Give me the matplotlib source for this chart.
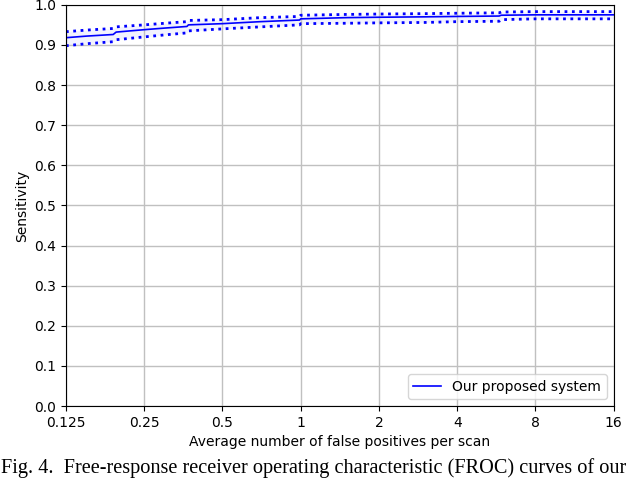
import numpy as np
import matplotlib.pyplot as plt

# FROC curve values
fp_rate = [0.125, 0.15, 0.19, 0.195, 0.25, 0.30, 0.365, 0.37, 0.5, 0.7, 0.99, 1.0, 1.5, 2, 3, 4, 5.8, 5.9, 8, 12, 16]
sens_mean = [0.918, 0.922, 0.926, 0.932, 0.938, 0.942, 0.946, 0.950, 0.953, 0.958, 0.962, 0.965, 0.968, 0.969, 0.970, 0.971, 0.972, 0.974, 0.975, 0.975, 0.975]
sens_upper = [0.933, 0.937, 0.941, 0.945, 0.950, 0.954, 0.958, 0.961, 0.963, 0.968, 0.971, 0.974, 0.976, 0.977, 0.978, 0.979, 0.980, 0.982, 0.983, 0.983, 0.983]
sens_lower = [0.898, 0.903, 0.908, 0.913, 0.920, 0.925, 0.930, 0.935, 0.940, 0.945, 0.950, 0.953, 0.954, 0.955, 0.956, 0.958, 0.959, 0.963, 0.965, 0.965, 0.965]

xticks = [0.125, 0.25, 0.5, 1, 2, 4, 8, 16]
xtick_labels = ["0.125", "0.25", "0.5", "1", "2", "4", "8", "16"]

caption = "Fig. 4.  Free-response receiver operating characteristic (FROC) curves of our"

fig = plt.figure(figsize=(6.4, 4.8), dpi=100)
ax = fig.add_axes([0.103, 0.154, 0.856, 0.836])

ax.fill_between(fp_rate, sens_lower, sens_upper, color="blue", alpha=0.05, linewidth=0)
ax.plot(fp_rate, sens_mean, color="blue", label="Our proposed system", linewidth=1.2)
ax.plot(fp_rate, sens_upper, color="blue", linestyle=":", linewidth=2)
ax.plot(fp_rate, sens_lower, color="blue", linestyle=":", linewidth=2)

ax.set_xscale("log", base=2)
ax.set_xlim(0.125, 16)
ax.set_ylim(0, 1)
ax.set_xticks(xticks)
ax.set_xticklabels(xtick_labels)
ax.minorticks_off()
ax.set_yticks(np.arange(0, 1.01, 0.1))
ax.grid(True, color="#c0c0c0", linewidth=1)
ax.set_xlabel("Average number of false positives per scan")
ax.set_ylabel("Sensitivity")
ax.legend(loc="lower right")

# caption below the chart, kept inside the canvas
fig.text(0.002, 0.004, caption, family="Liberation Serif", fontsize=14.6,
         va="bottom", ha="left")

fig.savefig("out.png")
